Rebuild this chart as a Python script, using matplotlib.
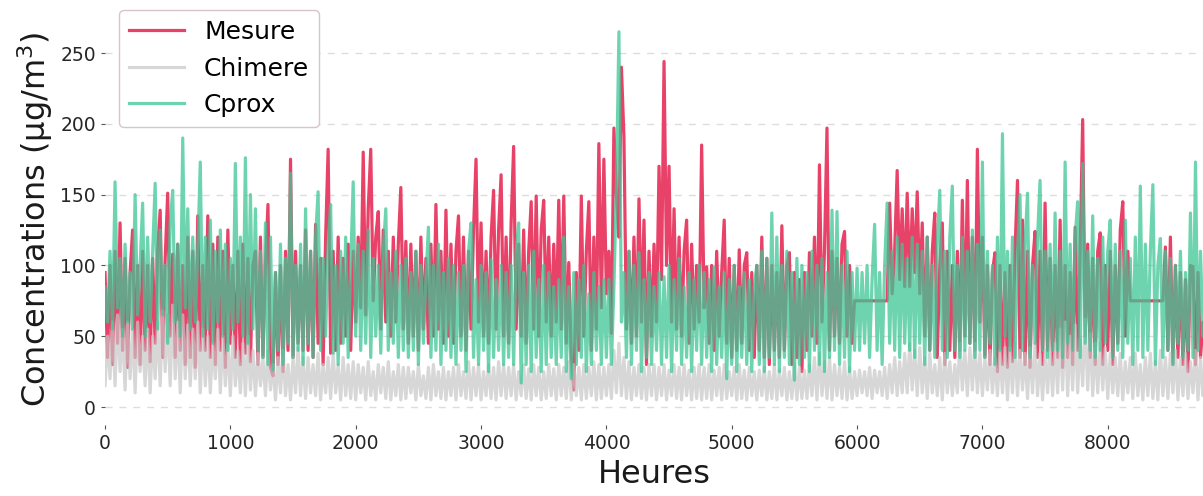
import numpy as np
from matplotlib import pyplot as plt

# valeurs : un point toutes les 20 heures (pics et creux),
# une ligne = 400 heures
pas_heures = 20

mesure = [
    95, 35, 100, 30, 110, 45, 130, 40, 105, 28, 95, 125, 35, 100, 30, 110, 40, 100, 32, 105,
    45, 110, 139, 35, 105, 151, 50, 108, 35, 115, 40, 100, 30, 120, 35, 110, 28, 135, 40, 100,
    40, 135, 35, 115, 30, 120, 40, 110, 28, 125, 45, 100, 35, 110, 30, 115, 38, 105, 32, 100,
    110, 30, 120, 35, 100, 143, 28, 22, 95, 30, 100, 25, 110, 40, 175, 35, 110, 45, 100, 40,
    125, 40, 110, 35, 129, 45, 105, 30, 120, 182, 38, 110, 40, 120, 45, 105, 50, 115, 40, 110,
    60, 120, 70, 180, 65, 140, 182, 75, 120, 138, 55, 125, 60, 110, 50, 120, 60, 115, 155, 55,
    117, 45, 115, 50, 110, 40, 120, 55, 105, 45, 115, 50, 143, 55, 110, 45, 139, 50, 115, 45,
    110, 135, 50, 120, 40, 110, 55, 125, 175, 60, 130, 50, 110, 45, 120, 153, 55, 125, 164, 50,
    120, 45, 130, 184, 55, 115, 50, 125, 45, 110, 145, 55, 149, 50, 125, 146, 60, 120, 50, 115,
    60, 146, 55, 149, 45, 102, 35, 12, 95, 40, 149, 50, 110, 145, 40, 120, 55, 186, 70, 175,
    80, 110, 52, 197, 150, 120, 240, 191, 55, 110, 45, 120, 50, 147, 60, 132, 30, 110, 50, 115,
    60, 170, 90, 244, 100, 170, 60, 140, 55, 120, 50, 110, 132, 45, 115, 55, 100, 60, 185, 70,
    99, 45, 100, 40, 110, 50, 95, 132, 45, 105, 35, 100, 40, 111, 45, 100, 109, 40, 95, 35,
    100, 40, 120, 35, 105, 30, 100, 40, 95, 35, 128, 40, 100, 109, 30, 95, 35, 90, 25, 95,
    40, 109, 50, 120, 45, 171, 60, 110, 197, 40, 110, 50, 105, 45, 115, 124, 50, 100, 45, 75,
    75, 75, 75, 75, 75, 75, 75, 75, 75, 75, 75, 75, 75, 144, 80, 110, 167, 90, 140, 85,
    151, 85, 140, 95, 152, 80, 130, 50, 120, 40, 110, 137, 35, 100, 130, 30, 110, 40, 100, 35,
    110, 40, 146, 50, 160, 45, 120, 40, 182, 60, 120, 35, 100, 30, 95, 109, 25, 100, 30, 95,
    28, 100, 32, 110, 160, 35, 132, 30, 110, 28, 100, 124, 35, 110, 30, 144, 40, 105, 30, 100,
    35, 132, 28, 100, 35, 95, 30, 127, 40, 110, 203, 50, 115, 35, 105, 30, 110, 123, 30, 100,
    40, 110, 30, 100, 45, 125, 145, 50, 110, 75, 75, 75, 75, 75, 75, 75, 75, 75, 75, 75,
    75, 75, 75, 113, 40, 120, 30, 100, 35, 95, 30, 90, 25, 100, 99, 30, 95, 35, 60, 40,
]

chimere = [
    15, 50, 20, 60, 15, 65, 25, 55, 12, 60, 20, 55, 10, 60, 25, 50, 15, 55, 10, 50,
    20, 60, 15, 68, 25, 65, 15, 72, 20, 60, 10, 65, 20, 58, 15, 55, 20, 60, 10, 55,
    15, 50, 10, 45, 20, 55, 10, 50, 15, 45, 8, 50, 15, 40, 10, 45, 8, 50, 12, 40,
    8, 38, 15, 35, 8, 40, 12, 30, 5, 35, 10, 40, 8, 30, 5, 35, 10, 42, 8, 35,
    6, 35, 10, 30, 8, 38, 5, 30, 10, 35, 6, 38, 10, 30, 5, 35, 8, 30, 6, 32,
    5, 30, 10, 28, 5, 32, 8, 25, 5, 30, 10, 28, 6, 32, 5, 25, 8, 30, 5, 28,
    6, 28, 10, 25, 5, 30, 8, 22, 6, 28, 5, 30, 8, 25, 6, 28, 5, 25, 8, 28,
    5, 30, 8, 25, 6, 32, 5, 28, 8, 30, 5, 25, 8, 30, 6, 28, 5, 32, 8, 30,
    6, 28, 8, 30, 5, 25, 8, 30, 6, 27, 5, 30, 8, 28, 5, 25, 6, 30, 8, 27,
    5, 30, 8, 28, 6, 32, 5, 30, 8, 28, 5, 30, 6, 28, 8, 32, 5, 30, 6, 28,
    8, 30, 6, 40, 10, 45, 8, 35, 6, 32, 5, 28, 8, 30, 6, 28, 5, 30, 8, 30,
    5, 28, 8, 30, 5, 26, 8, 30, 6, 28, 5, 30, 8, 26, 5, 28, 6, 30, 5, 28,
    6, 30, 5, 26, 8, 28, 5, 30, 6, 25, 8, 28, 5, 30, 6, 26, 5, 28, 8, 25,
    5, 26, 8, 28, 5, 25, 6, 30, 5, 26, 8, 28, 5, 25, 6, 30, 5, 28, 6, 26,
    6, 30, 8, 35, 5, 38, 8, 32, 6, 35, 5, 30, 8, 28, 6, 32, 5, 28, 6, 25,
    8, 26, 10, 25, 8, 28, 6, 26, 10, 25, 8, 28, 6, 30, 10, 35, 8, 32, 10, 38,
    10, 45, 12, 40, 8, 42, 10, 35, 6, 38, 10, 30, 8, 35, 5, 38, 10, 32, 8, 30,
    10, 45, 12, 40, 8, 42, 12, 45, 10, 38, 8, 35, 12, 40, 10, 35, 8, 40, 10, 42,
    5, 42, 10, 45, 8, 40, 12, 38, 6, 42, 10, 45, 8, 38, 5, 40, 10, 42, 8, 45,
    10, 55, 12, 60, 8, 50, 12, 58, 10, 48, 15, 62, 12, 52, 8, 45, 10, 45, 12, 42,
    6, 38, 10, 35, 8, 38, 5, 32, 10, 35, 6, 38, 8, 30, 5, 35, 8, 38, 6, 32,
    5, 40, 8, 35, 6, 38, 10, 40, 5, 35, 8, 38, 6, 32, 10, 40, 5, 35, 8, 30,
]

cprox = [
    85, 60, 110, 55, 159, 70, 105, 50, 115, 60, 95, 55, 150, 65, 100, 144, 50, 120, 60, 110,
    158, 55, 125, 65, 100, 45, 130, 153, 60, 115, 50, 190, 70, 140, 55, 120, 60, 110, 173, 50,
    120, 55, 132, 45, 110, 60, 125, 50, 115, 40, 105, 55, 172, 60, 120, 50, 176, 45, 150, 55,
    140, 40, 110, 35, 130, 30, 120, 26, 95, 40, 115, 30, 105, 45, 165, 35, 100, 40, 115, 30,
    140, 45, 110, 35, 120, 152, 40, 105, 50, 115, 143, 38, 100, 30, 110, 45, 120, 35, 100, 159,
    50, 115, 40, 110, 45, 125, 35, 105, 50, 100, 38, 110, 140, 40, 95, 45, 110, 35, 100, 40,
    105, 35, 95, 40, 110, 30, 100, 45, 90, 127, 35, 100, 40, 115, 30, 95, 40, 105, 35, 100,
    30, 95, 40, 100, 25, 110, 130, 35, 90, 30, 100, 40, 95, 25, 104, 35, 90, 40, 100, 30,
    95, 35, 100, 30, 110, 130, 17, 95, 30, 100, 25, 110, 35, 90, 25, 100, 30, 95, 35, 85,
    30, 90, 35, 120, 25, 85, 20, 95, 30, 90, 35, 100, 25, 80, 30, 95, 40, 85, 30, 90,
    35, 90, 30, 85, 155, 265, 60, 95, 35, 110, 30, 100, 40, 109, 25, 90, 35, 95, 30, 85,
    40, 95, 30, 92, 35, 100, 25, 90, 40, 105, 30, 85, 35, 95, 25, 90, 40, 100, 30, 95,
    35, 90, 25, 99, 30, 85, 35, 95, 20, 90, 30, 100, 25, 85, 35, 95, 30, 90, 25, 85,
    100, 30, 110, 25, 105, 35, 137, 30, 120, 25, 100, 35, 110, 30, 95, 19, 105, 30, 100, 35,
    95, 25, 110, 40, 100, 30, 105, 25, 95, 35, 139, 40, 138, 30, 100, 35, 110, 25, 95, 40,
    98, 40, 95, 45, 100, 35, 90, 129, 40, 95, 30, 100, 144, 45, 110, 40, 120, 35, 115, 45,
    105, 40, 120, 35, 115, 45, 110, 30, 120, 40, 100, 35, 115, 153, 40, 110, 35, 120, 156, 40,
    100, 35, 120, 40, 110, 45, 125, 35, 115, 40, 173, 35, 110, 45, 100, 30, 120, 40, 193, 50,
    110, 40, 120, 35, 110, 150, 40, 115, 151, 35, 100, 45, 120, 160, 40, 110, 35, 115, 40, 137,
    40, 110, 35, 173, 45, 115, 40, 120, 145, 35, 172, 45, 110, 40, 135, 35, 105, 40, 120, 45,
    110, 132, 35, 115, 40, 110, 35, 132, 45, 105, 30, 120, 40, 156, 35, 115, 40, 110, 157, 30,
    100, 119, 35, 110, 40, 105, 30, 100, 45, 110, 35, 95, 40, 137, 35, 173, 40, 110, 50, 90,
]

heures = np.arange(len(mesure)) * pas_heures

fig = plt.figure(figsize=(12.03, 4.96), dpi=100)
ax = fig.add_axes([0.0873, 0.1423, 0.9127, 0.8307])

# tracé des trois séries, dans l'ordre de la légende
ax.plot(heures, mesure, color='#E84268', lw=2.3, label='Mesure')
ax.plot(heures, chimere, color='#C7C7C7', lw=2.3, alpha=0.7, label='Chimere')
ax.plot(heures, cprox, color='#3EC696', lw=2.3, alpha=0.75, label='Cprox')

ax.set_xlim(0, 8760)
ax.set_ylim(-13, 278)
ax.set_yticks([0, 50, 100, 150, 200, 250])
ax.set_xticks([0, 1000, 2000, 3000, 4000, 5000, 6000, 7000, 8000])

# grille horizontale en pointillés, pas de cadre
ax.grid(axis='y', linestyle=(0, (5, 5)), color='#DDDDDD', lw=1)
ax.set_axisbelow(True)
for s in ax.spines.values():
    s.set_visible(False)
ax.tick_params(axis='both', labelsize=13.5, colors='#555555', labelcolor='#262626',
               length=3, width=0.8)

ax.set_xlabel('Heures', fontsize=23, color='#1a1a1a')
ax.set_ylabel('Concentrations (µg/m$^3$)', fontsize=23, color='#1a1a1a')

leg = ax.legend(loc='upper left', bbox_to_anchor=(0.0128, 1.008), borderaxespad=0,
                fontsize=18, handlelength=2.2, framealpha=1, fancybox=True)
leg.get_frame().set_edgecolor('#D9C3CC')
for ligne in leg.get_lines():
    ligne.set_linewidth(2.3)

plt.savefig('out.png', dpi=100)
